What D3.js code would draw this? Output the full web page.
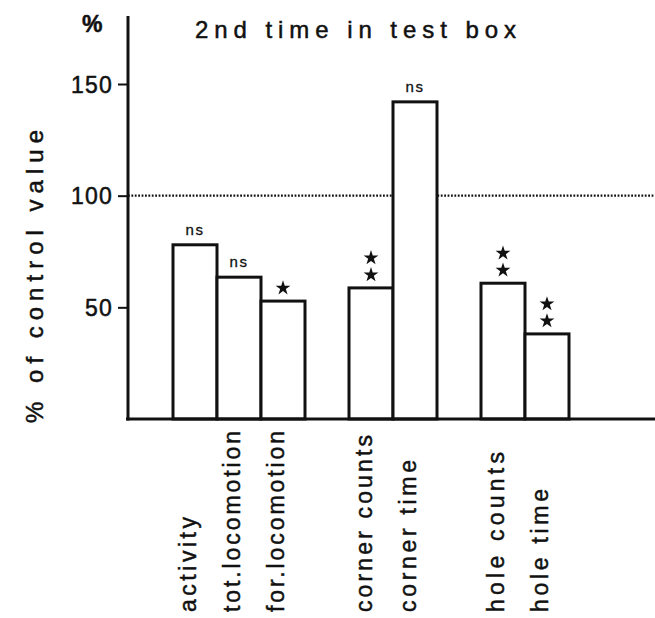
<!DOCTYPE html>
<html>
<head>
<meta charset="utf-8">
<script src="https://cdn.jsdelivr.net/npm/d3@7"></script>
<style>
  body { margin: 0; background: #fff; }
  svg text { font-family: "Liberation Sans", Arial, Helvetica, sans-serif; fill: #111; stroke: #111; stroke-width: 0.5px; }
</style>
</head>
<body>
<div id="chart"></div>
<script>
// measures, in plotting order
var categories = ["activity", "tot.locomotion", "for.locomotion", "corner counts", "corner time", "hole counts", "hole time"];
var groups = [0, 0, 0, 1, 1, 2, 2];          // bars are clustered in three groups
var values = [78, 63.5, 52.8, 58.7, 142, 60.8, 38.1];   // % of control
var signif = ["ns", "ns", "*", "**", "ns", "**", "**"];
var yTicks = [50, 100, 150];
var controlLevel = 100;

var W = 655, H = 618;
var svg = d3.select("#chart").append("svg").attr("width", W).attr("height", H);

var y = d3.scaleLinear().domain([0, 150]).range([419, 84]);
// 9 slots: 7 bars + one empty slot between groups
var x = d3.scaleBand().domain(d3.range(9)).range([173, 569]).padding(0);
function slot(i) { return i + groups[i]; }

// control (100%) dotted line
svg.append("line")
  .attr("x1", 128).attr("x2", W)
  .attr("y1", y(controlLevel)).attr("y2", y(controlLevel))
  .attr("stroke", "#111").attr("stroke-width", 2.2)
  .attr("stroke-dasharray", "1.8 1.6");

// bars
svg.selectAll("rect.bar").data(values).enter().append("rect")
  .attr("class", "bar")
  .attr("x", function (d, i) { return x(slot(i)); })
  .attr("y", function (d) { return y(d); })
  .attr("width", x.bandwidth())
  .attr("height", function (d) { return y(0) - y(d); })
  .attr("fill", "#fff").attr("stroke", "#111").attr("stroke-width", 3);

// y axis
var yAxis = d3.axisLeft(y).tickValues(yTicks).tickSize(10).tickPadding(5);
var gy = svg.append("g").attr("transform", "translate(128,0)").call(yAxis);
gy.select(".domain").remove();
gy.selectAll(".tick line").attr("stroke", "#111").attr("stroke-width", 2);
gy.selectAll(".tick text")
  .attr("font-size", 23).attr("letter-spacing", 1.2)
  .attr("dy", "0.36em").style("font-family", "'Liberation Sans', Arial, sans-serif");
svg.append("line").attr("x1", 128).attr("x2", 128).attr("y1", 16).attr("y2", y(0) + 1.5)
  .attr("stroke", "#111").attr("stroke-width", 3);

// x axis baseline
svg.append("line").attr("x1", 126).attr("x2", W).attr("y1", y(0)).attr("y2", y(0))
  .attr("stroke", "#111").attr("stroke-width", 3);

// category labels (rotated)
var labelLen = { "activity": 95, "tot.locomotion": 181, "for.locomotion": 181, "corner counts": 177, "corner time": 152, "hole counts": 160, "hole time": 123 };
svg.selectAll("text.cat").data(categories).enter().append("text")
  .attr("class", "cat")
  .attr("transform", function (d, i) { return "translate(" + (x(slot(i)) + x.bandwidth() / 2 + 1) + ",612) rotate(-90)"; })
  .attr("font-size", 23)
  .attr("textLength", function (d) { return labelLen[d]; })
  .attr("lengthAdjust", "spacing")
  .text(function (d) { return d; });

// significance marks
var star = d3.symbol().type(d3.symbolStar).size(68);
values.forEach(function (v, i) {
  var cx = x(slot(i)) + x.bandwidth() / 2;
  var top = y(v);
  if (signif[i] === "ns") {
    svg.append("text").attr("x", cx).attr("y", top - 10)
      .attr("text-anchor", "middle").attr("font-size", 15).attr("letter-spacing", 1.5)
      .style("stroke-width", "0.3px")
      .text("ns");
  } else {
    for (var k = 0; k < signif[i].length; k++) {
      svg.append("path").attr("d", star)
        .attr("transform", "translate(" + cx + "," + (top - 13 - 17 * k) + ")")
        .attr("fill", "#111");
    }
  }
});

// titles
svg.append("text").attr("x", 195).attr("y", 38)
  .attr("font-size", 24).attr("textLength", 321).attr("lengthAdjust", "spacing")
  .text("2nd time in test box");
svg.append("text").attr("x", 82).attr("y", 32)
  .attr("font-size", 23).attr("font-weight", "bold").text("%");
svg.append("text").attr("transform", "translate(43,423) rotate(-90)")
  .attr("font-size", 24).attr("textLength", 293).attr("lengthAdjust", "spacing")
  .text("% of control value");
</script>
</body>
</html>
